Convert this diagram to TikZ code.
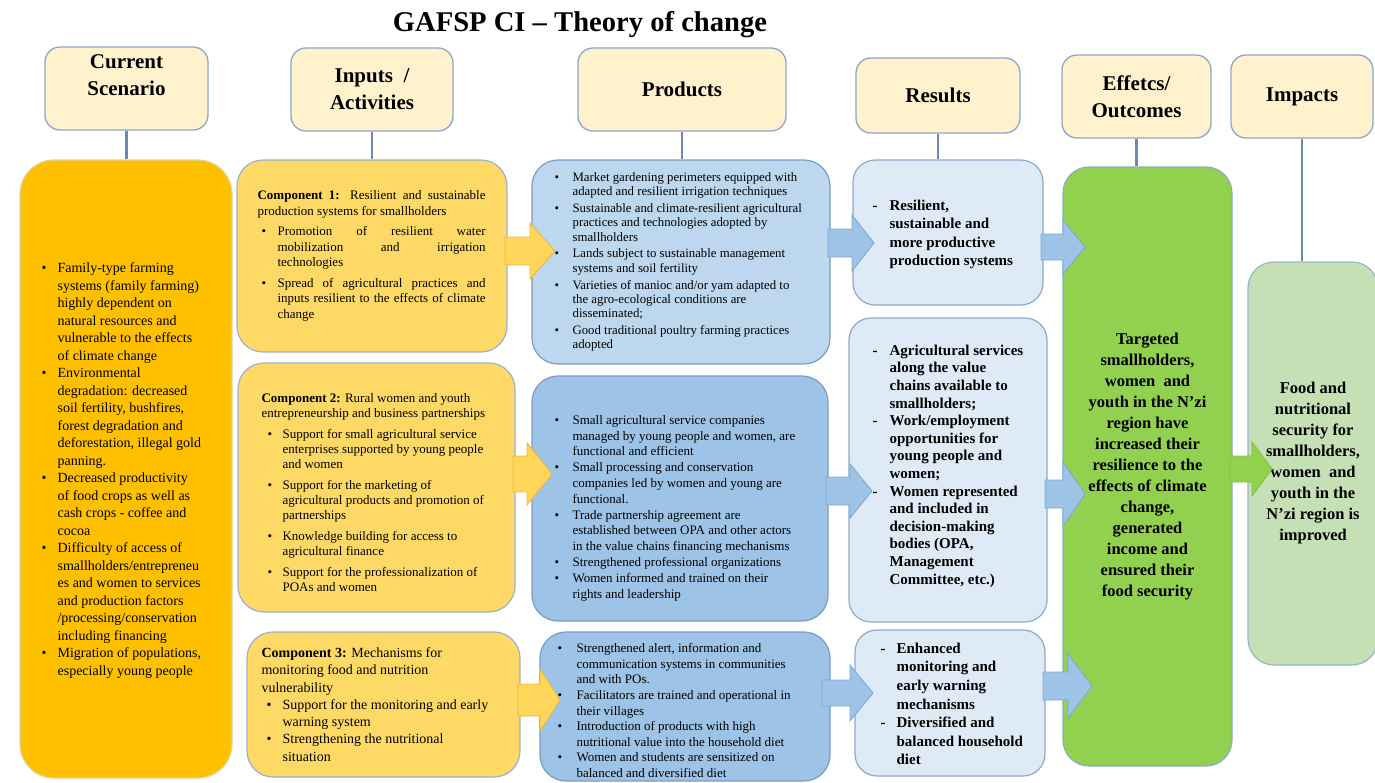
\documentclass[tikz,border=0pt]{standalone}
\usepackage{fontspec}
\setmainfont{Liberation Serif}
\usetikzlibrary{calc}

\definecolor{hdrfill}{HTML}{FFF2CC}
\definecolor{hdrline}{HTML}{8EA6C8}
\definecolor{conncol}{HTML}{6C88B4}
\definecolor{curfill}{HTML}{FFC000}
\definecolor{curline}{HTML}{E2D6A0}
\definecolor{compfill}{HTML}{FFD966}
\definecolor{compline}{HTML}{9CB1CF}
\definecolor{prodfillA}{HTML}{BDD7EE}
\definecolor{prodfillB}{HTML}{9DC3E6}
\definecolor{prodline}{HTML}{7C9CC6}
\definecolor{resfill}{HTML}{DEEBF7}
\definecolor{resline}{HTML}{8DA9CC}
\definecolor{outcfill}{HTML}{92D050}
\definecolor{outcline}{HTML}{8DA9CC}
\definecolor{impfill}{HTML}{C5E0B4}
\definecolor{impline}{HTML}{9AB3CC}
\definecolor{yarrfill}{HTML}{FFD659}
\definecolor{yarrline}{HTML}{E9BC3A}
\definecolor{barrfill}{HTML}{9DC3E6}
\definecolor{barrline}{HTML}{7FA8D2}
\definecolor{garrfill}{HTML}{92D050}
\definecolor{garrline}{HTML}{84C042}

% list helpers: bullet after an indent, dash bullet, continuation indent, justified line
\newcommand\bul[2]{\hspace*{#1pt}\makebox[#2pt][l]{\textbullet}}
\newcommand\dsh[2]{\hspace*{#1pt}\makebox[#2pt][l]{-}}
\newcommand\cnt[1]{\hspace*{#1pt}}
\newcommand\just[2]{\makebox[#1pt][s]{#2}}
% block arrow: style, x start, x head base, x tip, y centre, shaft half, head half
\newcommand\blockarrow[7]{%
  \draw[#1] (#2,#5-#6) -- (#3,#5-#6) -- (#3,#5-#7) -- (#4,#5)
    -- (#3,#5+#7) -- (#3,#5+#6) -- (#2,#5+#6) -- cycle;}

\begin{document}
\begin{tikzpicture}[x=1pt,y=-1pt,
  hdr/.style={draw=hdrline, fill=hdrfill, line width=1.3pt, rounded corners=15pt,
    inner sep=0pt, align=center, font=\fontsize{21}{27}\selectfont\bfseries},
  panel/.style={line width=1.2pt, inner sep=0pt},
  curbox/.style={panel, draw=curline, fill=curfill, rounded corners=34pt},
  compbox/.style={panel, draw=compline, fill=compfill, rounded corners=26pt},
  prodboxA/.style={panel, draw=prodline, fill=prodfillA, rounded corners=26pt},
  prodboxB/.style={panel, draw=prodline, fill=prodfillB, rounded corners=26pt},
  resbox/.style={panel, draw=resline, fill=resfill, rounded corners=22pt},
  outcbox/.style={panel, draw=outcline, fill=outcfill, rounded corners=26pt,
    align=center, font=\fontsize{16.5}{21}\selectfont\bfseries},
  impbox/.style={panel, draw=impline, fill=impfill, rounded corners=26pt,
    align=center, font=\fontsize{16.5}{21}\selectfont\bfseries},
  txt/.style={anchor=west, align=left, inner sep=0pt},
  link/.style={draw=conncol, line width=2.4pt},
  yarrow/.style={fill=yarrfill, draw=yarrline, line width=0.9pt},
  barrow/.style={fill=barrfill, draw=barrline, line width=0.9pt},
  garrow/.style={fill=garrfill, draw=garrline, line width=0.9pt},
]
\useasboundingbox (0,0) rectangle (1375,782);
\fill[white] (0,0) rectangle (1375,782);

% title
\node[font=\fontsize{28.6}{32}\selectfont\bfseries, inner sep=0pt] (title) at (580,25)
  {GAFSP CI – Theory of change};

% column headers
\node[hdr, minimum width=163pt, minimum height=83pt] (hcur) at (126.5,88.5) {Current\\Scenario\\\mbox{}};
\node[hdr, minimum width=162pt, minimum height=83pt] (hin) at (372,89.5) {Inputs\ \ /\\Activities};
\node[hdr, minimum width=208pt, minimum height=83pt] (hprod) at (682,89.5) {Products};
\node[hdr, minimum width=164pt, minimum height=75pt] (hres) at (938,95.5) {Results};
\node[hdr, minimum width=149pt, minimum height=83pt] (hout) at (1136.5,96.5) {Effetcs/\\Outcomes};
\node[hdr, minimum width=142pt, minimum height=83pt] (himp) at (1302,96.5) {Impacts};

% current scenario
\node[curbox, minimum width=212pt, minimum height=618pt] (cur) at (126,469) {};
\node[txt, font=\fontsize{14}{17.5}\selectfont] (curtext) at ($(cur.west)+(22,1.5)$) {%
\bul{0}{16}Family-type farming\\
\cnt{16}systems (family farming)\\
\cnt{16}highly dependent on\\
\cnt{16}natural resources and\\
\cnt{16}vulnerable to the effects\\
\cnt{16}of climate change\\
\bul{0}{16}Environmental\\
\cnt{16}degradation: decreased\\
\cnt{16}soil fertility, bushfires,\\
\cnt{16}forest degradation and\\
\cnt{16}deforestation, illegal gold\\
\cnt{16}panning.\\
\bul{0}{16}Decreased productivity\\
\cnt{16}of food crops as well as\\
\cnt{16}cash crops - coffee and\\
\cnt{16}cocoa\\
\bul{0}{16}Difficulty of access of\\
\cnt{16}smallholders/entrepreneu\\
\cnt{16}es and women to services\\
\cnt{16}and production factors\\
\cnt{16}/processing/conservation\\
\cnt{16}including financing\\
\bul{0}{16}Migration of populations,\\
\cnt{16}especially young people};

% inputs / activities
\node[compbox, minimum width=270pt, minimum height=192pt] (c1) at (372,256) {};
\node[txt, font=\fontsize{13}{15.5}\selectfont] (c1text) at ($(c1.west)+(21,0)$) {%
\just{228}{\textbf{Component 1:} Resilient and sustainable}\\
production systems for smallholders\\[5pt]
\bul{4}{16}\just{208}{Promotion of resilient water}\\
\cnt{20}\just{208}{mobilization and irrigation}\\
\cnt{20}technologies\\[5pt]
\bul{4}{16}\just{208}{Spread of agricultural practices and}\\
\cnt{20}\just{208}{inputs resilient to the effects of climate}\\
\cnt{20}change};

\node[compbox, minimum width=277pt, minimum height=249pt] (c2) at (376.5,487.5) {};
\node[txt, font=\fontsize{13}{15}\selectfont] (c2text) at ($(c2.west)+(24,5)$) {%
\textbf{Component 2:} Rural women and youth\\
entrepreneurship and business partnerships\\[6pt]
\bul{6}{15}Support for small agricultural service\\
\cnt{21}enterprises supported by young people\\
\cnt{21}and women\\[6pt]
\bul{6}{15}Support for the marketing of\\
\cnt{21}agricultural products and promotion of\\
\cnt{21}partnerships\\[6pt]
\bul{6}{15}Knowledge building for access to\\
\cnt{21}agricultural finance\\[6pt]
\bul{6}{15}Support for the professionalization of\\
\cnt{21}POAs and women};

\node[compbox, minimum width=273pt, minimum height=145pt] (c3) at (383.5,704.5) {};
\node[txt, font=\fontsize{14}{17.3}\selectfont] (c3text) at ($(c3.west)+(15,0)$) {%
\textbf{Component 3:} Mechanisms for\\
monitoring food and nutrition\\
vulnerability\\
\bul{5}{16}Support for the monitoring and early\\
\cnt{21}warning system\\
\bul{5}{16}Strengthening the nutritional\\
\cnt{21}situation};

% products
\node[prodboxA, minimum width=298pt, minimum height=204pt] (p1) at (681,262) {};
\node[txt, font=\fontsize{12.8}{14.3}\selectfont] (p1text) at ($(p1.west)+(23,0)$) {%
\bul{0}{18}Market gardening perimeters equipped with\\
\cnt{18}adapted and resilient irrigation techniques\\[2.5pt]
\bul{0}{18}Sustainable and climate-resilient agricultural\\
\cnt{18}practices and technologies adopted by\\
\cnt{18}smallholders\\[2.5pt]
\bul{0}{18}Lands subject to sustainable management\\
\cnt{18}systems and soil fertility\\[2.5pt]
\bul{0}{18}Varieties of manioc and/or yam adapted to\\
\cnt{18}the agro-ecological conditions are\\
\cnt{18}disseminated;\\[2.5pt]
\bul{0}{18}Good traditional poultry farming practices\\
\cnt{18}adopted};

\node[prodboxB, minimum width=296pt, minimum height=245pt] (p2) at (680,498.5) {};
\node[txt, font=\fontsize{13}{15.8}\selectfont] (p2text) at ($(p2.west)+(23,9.5)$) {%
\bul{0}{18}Small agricultural service companies\\
\cnt{18}managed by young people and women, are\\
\cnt{18}functional and efficient\\
\bul{0}{18}Small processing and conservation\\
\cnt{18}companies led by women and young are\\
\cnt{18}functional.\\
\bul{0}{18}Trade partnership agreement are\\
\cnt{18}established between OPA and other actors\\
\cnt{18}in the value chains financing mechanisms\\
\bul{0}{18}Strengthened professional organizations\\
\bul{0}{18}Women informed and trained on their\\
\cnt{18}rights and leadership};

\node[prodboxB, minimum width=290pt, minimum height=149pt] (p3) at (685,706.5) {};
\node[txt, font=\fontsize{13}{15.6}\selectfont] (p3text) at ($(p3.west)+(18,4)$) {%
\bul{0}{19}Strengthened alert, information and\\
\cnt{19}communication systems in communities\\
\cnt{19}and with POs.\\
\bul{0}{19}Facilitators are trained and operational in\\
\cnt{19}their villages\\
\bul{0}{19}Introduction of products with high\\
\cnt{19}nutritional value into the household diet\\
\bul{0}{19}Women and students are sensitized on\\
\cnt{19}balanced and diversified diet};

% results
\node[resbox, minimum width=190pt, minimum height=145pt] (r1) at (948,232.5) {};
\node[txt, font=\fontsize{15}{18.3}\selectfont\bfseries] (r1text) at ($(r1.west)+(20,2)$) {%
\dsh{0}{17}Resilient,\\
\cnt{17}sustainable and\\
\cnt{17}more productive\\
\cnt{17}production systems};

\node[resbox, minimum width=198pt, minimum height=304pt] (r2) at (948,470) {};
\node[txt, font=\fontsize{15}{17.6}\selectfont\bfseries] (r2text) at ($(r2.west)+(24,-4)$) {%
\dsh{0}{17}Agricultural services\\
\cnt{17}along the value\\
\cnt{17}chains available to\\
\cnt{17}smallholders;\\
\dsh{0}{17}Work/employment\\
\cnt{17}opportunities for\\
\cnt{17}young people and\\
\cnt{17}women;\\
\dsh{0}{17}Women represented\\
\cnt{17}and included in\\
\cnt{17}decision-making\\
\cnt{17}bodies (OPA,\\
\cnt{17}Management\\
\cnt{17}Committee, etc.)};

\node[resbox, minimum width=190pt, minimum height=146pt] (r3) at (950,703) {};
\node[txt, font=\fontsize{15}{18.6}\selectfont\bfseries] (r3text) at ($(r3.west)+(26,1)$) {%
\dsh{0}{16}Enhanced\\
\cnt{16}monitoring and\\
\cnt{16}early warning\\
\cnt{16}mechanisms\\
\dsh{0}{16}Diversified and\\
\cnt{16}balanced household\\
\cnt{16}diet};

% outcomes and impacts
\node[outcbox, minimum width=169pt, minimum height=599pt] (outc) at (1147.5,466.5) {%
Targeted\\smallholders,\\women\ \ and\\youth in the N'zi\\region have\\increased their\\
resilience to the\\effects of climate\\change,\\generated\\income and\\ensured their\\food security};

\node[impbox, minimum width=130pt, minimum height=403pt] (imp) at (1313,463.5) {%
Food and\\nutritional\\security for\\smallholders,\\women\ \ and\\youth in the\\N'zi region is\\improved};

% header connectors
\draw[link] (hcur.south) -- (hcur.south |- cur.north);
\draw[link] (hin.south) -- (hin.south |- c1.north);
\draw[link] (hprod.south) -- (hprod.south |- p1.north);
\draw[link] (hres.south) -- (hres.south |- r1.north);
\draw[link] (hout.south) -- (hout.south |- outc.north);
\draw[link] (himp.south) -- (himp.south |- imp.north);

% flow arrows
\blockarrow{yarrow}{505}{530}{555}{251}{14}{28}
\blockarrow{yarrow}{513}{527}{552}{474}{18}{31}
\blockarrow{yarrow}{518}{540}{560}{700}{16}{31}
\blockarrow{barrow}{828}{852}{874}{243}{14}{28}
\blockarrow{barrow}{826}{850}{872}{491}{14}{27}
\blockarrow{barrow}{822}{850}{873}{693}{13}{28}
\blockarrow{barrow}{1041}{1063}{1085}{247}{13}{27}
\blockarrow{barrow}{1045}{1063}{1085}{494}{14}{32}
\blockarrow{barrow}{1043}{1068}{1092}{686}{14}{32}
\blockarrow{garrow}{1230}{1252}{1272}{469}{13}{27}
\end{tikzpicture}
\end{document}
